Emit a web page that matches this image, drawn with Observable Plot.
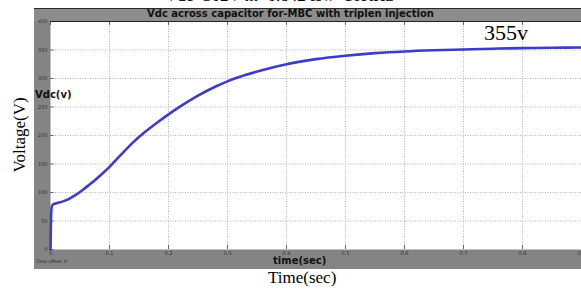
<!DOCTYPE html>
<html>
<head>
<meta charset="utf-8">
<script src="https://cdn.jsdelivr.net/npm/d3@7"></script>
<script src="https://cdn.jsdelivr.net/npm/@observablehq/plot@0.6"></script>
<style>
  html, body { margin: 0; padding: 0; background: #fff; }
  #wrap { position: relative; width: 581px; height: 291px; overflow: hidden; }
  .abs { position: absolute; white-space: nowrap; }
  #frame { left: 34px; top: 8px; width: 560px; height: 260px; background: #848484; border-top: 1px solid #2a2a2a; }
  #tbar { left: 34px; top: 9px; width: 560px; height: 12px; background: #8c8c8c; }
  #plot { position: absolute; left: 0; top: 0; }
  .sans { font-family: "DejaVu Sans", sans-serif; font-weight: bold; color: #111; }
  .serif { font-family: "Liberation Serif", "DejaVu Serif", serif; color: #000; }
</style>
</head>
<body>
<div id="wrap">
  <div class="abs" id="frame"></div>
  <div class="abs" id="tbar"></div>
  <div class="abs sans" style="left:0;width:581px;text-align:center;top:8px;font-size:10px;">Vdc across capacitor for-MBC with triplen injection</div>
  <div id="plot"></div>
  <div class="abs serif" style="left:165px;top:-14px;font-size:17px;">Vdc=302V  m=0.842  fsw=10KHz</div>
  <div class="abs sans" style="left:35px;top:89px;font-size:10px;">Vdc(v)</div>
  <div class="abs serif" style="left:484px;top:20px;font-size:22px;">355v</div>
  <div class="abs sans" style="left:273px;top:255px;font-size:10px;">time(sec)</div>
  <div class="abs" style="left:36px;top:259px;font-size:4.5px;font-family:'DejaVu Sans',sans-serif;color:#222;">Time offset:  0</div>
  <div class="abs serif" style="left:268px;top:268px;font-size:17px;">Time(sec)</div>
  <div class="abs serif" style="left:20px;top:135px;font-size:17px;transform:translate(-50%,-50%) rotate(-90deg);">Voltage(V)</div>
</div>
<script>
const time = [0, 0.0005, 0.001, 0.002, 0.004, 0.01, 0.02, 0.03, 0.04, 0.05, 0.06, 0.07, 0.08, 0.09, 0.1, 0.12, 0.14, 0.16, 0.18, 0.2, 0.22, 0.25, 0.28, 0.3, 0.33, 0.36, 0.4, 0.45, 0.5, 0.55, 0.6, 0.65, 0.7, 0.75, 0.8, 0.85, 0.9];
const vdc  = [0, 35, 60, 74, 79, 81, 84, 88, 94, 101, 109, 117, 126, 135, 145, 167, 188, 206, 222, 237, 251, 270, 286, 295, 306, 315, 325, 334, 340, 344.5, 347.5, 349.5, 351, 352.3, 353.3, 354, 354.5];
const xTicks = [0, 0.1, 0.2, 0.3, 0.4, 0.5, 0.6, 0.7, 0.8, 0.9];
const xTickLabels = ["0", "0.1", "0.2", "0.3", "0.4", "0.5", "0.6", "0.7", "0.8", "0.9"];
const yTicks = [0, 50, 100, 150, 200, 250, 300, 350, 400];

const data = time.map((t, i) => ({t, v: vdc[i]}));

const chart = Plot.plot({
  width: 581,
  height: 291,
  marginLeft: 50,
  marginRight: 0,
  marginTop: 21,
  marginBottom: 42,
  style: {background: "transparent", fontSize: "5px", fontFamily: "DejaVu Sans, sans-serif", color: "#333"},
  x: {domain: [0, 0.9]},
  y: {domain: [0, 400]},
  marks: [
    Plot.frame({fill: "white", stroke: null}),
    Plot.gridX(xTicks.slice(1), {stroke: "#b0b0b0", strokeOpacity: 1, strokeDasharray: "1,1.5"}),
    Plot.gridY(yTicks.slice(1, -1), {stroke: "#b0b0b0", strokeOpacity: 1, strokeDasharray: "1,1.5"}),
    Plot.ruleX(xTicks, {x: d => d, y1: 0, y2: 7, stroke: "#666"}),
    Plot.ruleX(xTicks, {x: d => d, y1: 393, y2: 400, stroke: "#666"}),
    Plot.ruleY(yTicks, {y: d => d, x1: 0, x2: 0.006, stroke: "#666"}),
    Plot.axisX(xTicks, {tickSize: 0, tickPadding: 2, tickFormat: (d, i) => xTickLabels[i], fill: "#333", label: null}),
    Plot.axisY(yTicks, {tickSize: 0, tickPadding: 3, fill: "#333", label: null}),
    Plot.lineY(data, {x: "t", y: "v", stroke: "#3b3bcc", strokeWidth: 2.6, curve: "monotone-x"}),
    Plot.ruleY([400], {stroke: "#222", strokeWidth: 1})
  ]
});
document.getElementById("plot").appendChild(chart);
</script>
</body>
</html>
